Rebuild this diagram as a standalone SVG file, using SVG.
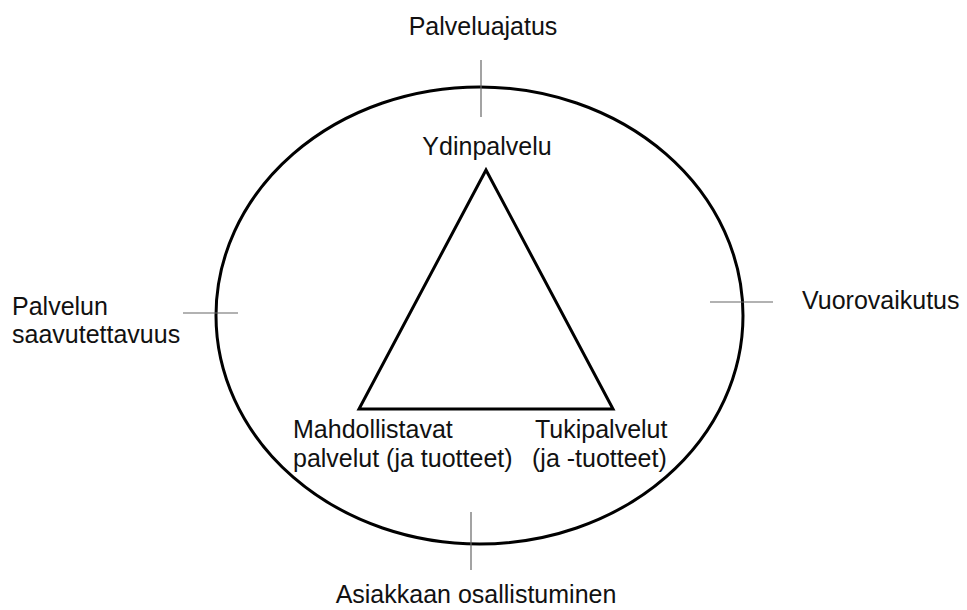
<svg xmlns="http://www.w3.org/2000/svg" width="967" height="610" viewBox="0 0 967 610">
  <style>
    text { font-family: "Liberation Sans", Arial, sans-serif; font-size: 25px; fill: #111; }
    .shape { fill: none; stroke: #000; stroke-width: 3; }
    .tick { stroke: #666; stroke-width: 1.2; fill: none; }
  </style>
  <rect width="967" height="610" fill="#fff"/>
  <g id="ellipse">
    <ellipse class="shape" cx="479.5" cy="315.5" rx="263.5" ry="228.5"/>
  </g>
  <g id="triangle">
    <polygon class="shape" points="486,170 359,409 613,409" stroke-linejoin="miter"/>
  </g>
  <g id="connectors">
    <line class="tick" x1="481" y1="60" x2="481" y2="117"/>
    <line class="tick" x1="183" y1="313" x2="238" y2="313"/>
    <line class="tick" x1="710" y1="302" x2="773" y2="302"/>
    <line class="tick" x1="471" y1="512" x2="471" y2="570"/>
  </g>
  <g id="palveluajatus"><text x="483" y="35" text-anchor="middle">Palveluajatus</text></g>
  <g id="ydinpalvelu"><text x="487" y="155" text-anchor="middle">Ydinpalvelu</text></g>
  <g id="saavutettavuus">
    <text x="12" y="315">Palvelun</text>
    <text x="12" y="343">saavutettavuus</text>
  </g>
  <g id="vuorovaikutus"><text x="802" y="309">Vuorovaikutus</text></g>
  <g id="mahdollistavat">
    <text x="293" y="438">Mahdollistavat</text>
    <text x="293" y="467">palvelut (ja tuotteet)</text>
  </g>
  <g id="tukipalvelut">
    <text x="535" y="438">Tukipalvelut</text>
    <text x="532" y="467">(ja -tuotteet)</text>
  </g>
  <g id="osallistuminen"><text x="476" y="603" text-anchor="middle">Asiakkaan osallistuminen</text></g>
</svg>
